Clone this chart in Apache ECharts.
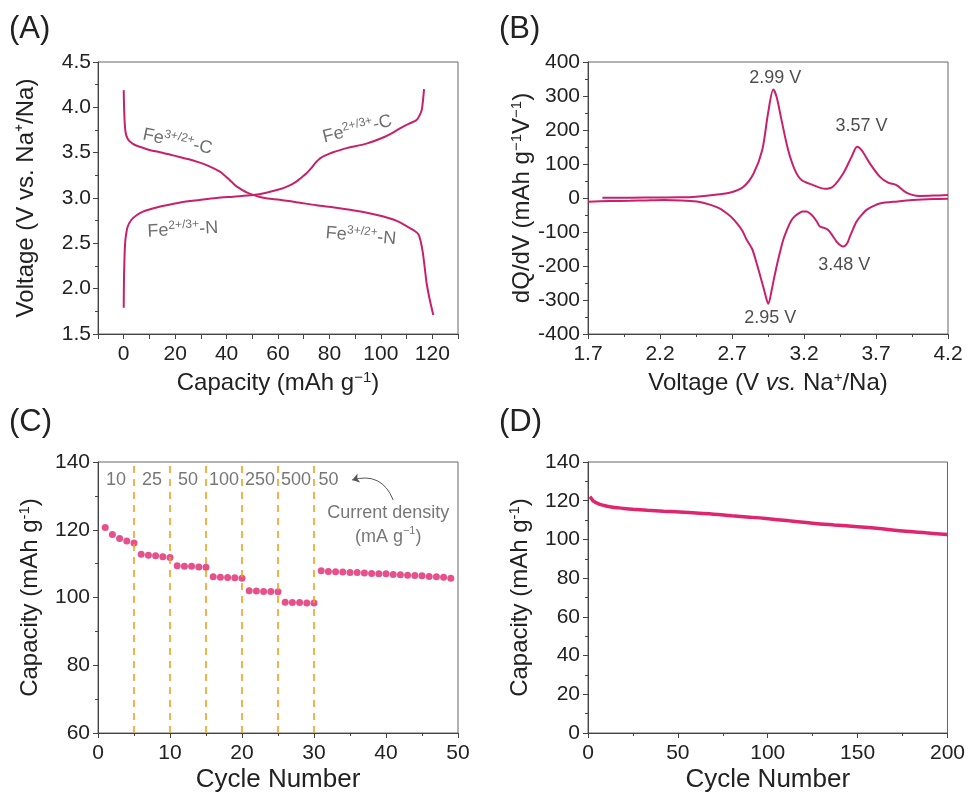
<!DOCTYPE html>
<html><head><meta charset="utf-8">
<script src="https://cdn.jsdelivr.net/npm/echarts@6/dist/echarts.min.js"></script>
<style>html,body{margin:0;padding:0;background:#fff}#c{width:968px;height:796px}</style>
</head><body><div id="c"></div>
<script>
// ---------- Panel A: charge / discharge profiles (capacity, voltage) ----------
const dischargeA = [[0,4.19],[0.2,3.95],[0.5,3.78],[0.9,3.70],[1.6,3.65],[2.5,3.62],[4,3.59],[6.2,3.565],[10,3.53],[15,3.50],[19.2,3.47],[25,3.43],[29.6,3.39],[32,3.365],[34,3.34],[36,3.312],[37.4,3.29],[38.8,3.26],[40,3.23],[41.3,3.195],[42.6,3.16],[44,3.125],[46,3.09],[48,3.06],[50.3,3.035],[53,3.01],[56,2.995],[60.7,2.98],[68,2.95],[74.9,2.92],[82,2.895],[88,2.87],[95,2.835],[101,2.795],[106,2.75],[110,2.69],[113,2.64],[114.6,2.60],[115.5,2.52],[116.3,2.40],[117.2,2.20],[117.8,2.06],[119,1.88],[120.4,1.71]];
const chargeA = [[0,1.79],[0.1,2.1],[0.26,2.30],[0.5,2.48],[0.8,2.575],[1.5,2.68],[3,2.76],[5,2.81],[7.5,2.85],[12,2.89],[16.6,2.92],[22,2.95],[29.6,2.978],[36,3.0],[42.6,3.015],[50.3,3.033],[55,3.055],[59.4,3.088],[61,3.10],[63,3.12],[65,3.145],[66.5,3.17],[68,3.20],[69.5,3.235],[71,3.27],[72.5,3.315],[73.5,3.35],[74.5,3.385],[75.5,3.415],[76.5,3.44],[78,3.465],[80,3.49],[82,3.51],[86.7,3.55],[94.4,3.60],[100.9,3.667],[104,3.71],[107.4,3.767],[111,3.82],[113.9,3.86],[115.2,3.92],[115.9,3.97],[116.4,4.08],[116.8,4.2]];
const feLabels = ['{b|Fe}{s|3+/2+}{b|-C}','{b|Fe}{s|2+/3+}{b|-C}','{b|Fe}{s|2+/3+}{b|-N}','{b|Fe}{s|3+/2+}{b|-N}'];
const feLabelPos = [[21,3.63],[90.8,3.77],[23,2.66],[92.3,2.59]];
const feLabelRotate = [-12,14,3,-5];
const capTicksA = [0,20,40,60,80,100,120];

// ---------- Panel B: dQ/dV ----------
const dqdvUpper = [[1.8,0.5],[2.0,1],[2.2,1.5],[2.34,2],[2.45,4],[2.57,9],[2.69,16],[2.78,33],[2.85,72],[2.91,141],[2.95,248],[2.987,319],[3.01,297],[3.044,229],[3.09,141],[3.137,82],[3.183,53],[3.264,38],[3.345,27],[3.40,33],[3.472,72],[3.53,121],[3.569,151],[3.60,141],[3.657,102],[3.726,63],[3.784,45],[3.842,38],[3.911,16],[4.0,6],[4.1,7],[4.2,9]];
const dqdvLower = [[4.2,-2],[4.1,-3],[3.957,-6],[3.85,-10],[3.726,-16],[3.68,-24],[3.634,-35],[3.60,-50],[3.565,-69],[3.54,-92],[3.519,-113],[3.50,-133],[3.472,-143],[3.45,-138],[3.426,-128],[3.40,-112],[3.368,-94],[3.34,-88],[3.31,-84],[3.29,-70],[3.264,-55],[3.24,-45],[3.218,-40],[3.19,-40],[3.172,-43],[3.14,-52],[3.114,-65],[3.085,-90],[3.056,-123],[3.03,-165],[3.01,-201],[2.99,-240],[2.976,-270],[2.952,-311],[2.94,-298],[2.929,-280],[2.9,-235],[2.871,-192],[2.84,-150],[2.802,-123],[2.77,-95],[2.733,-74],[2.70,-58],[2.663,-45],[2.62,-32],[2.571,-23],[2.50,-14],[2.456,-10],[2.35,-7],[2.225,-6],[2.1,-7],[1.993,-8],[1.85,-9],[1.7,-11]];
const peakLabels = ['2.99 V','3.57 V','3.48 V','2.95 V'];
const peakLabelPos = [[3.0,353],[3.6,212],[3.48,-197],[2.965,-353]];

// ---------- Panel C: rate capability ----------
const rateCycles = [1,2,3,4,5,6,7,8,9,10,11,12,13,14,15,16,17,18,19,20,21,22,23,24,25,26,27,28,29,30,31,32,33,34,35,36,37,38,39,40,41,42,43,44,45,46,47,48,49];
const rateCapacity = [120.7,118.6,117.4,116.7,116.1, 112.8,112.5,112.3,112.0,111.8, 109.4,109.2,109.2,109.0,108.9, 106.1,106.0,105.9,105.8,105.7, 102.0,101.9,101.8,101.8,101.7, 98.6,98.5,98.5,98.4,98.4, 107.9,107.7,107.6,107.5,107.4,107.4,107.2,107.1,107.0,107.0,106.8,106.7,106.6,106.5,106.4,106.2,106.1,106.0,105.7];
const rateBoundaries = [5,10,15,20,25,30];
const rateLabels = ['10','25','50','100','250','500','50'];
const rateLabelX = [2.5,7.5,12.5,17.5,22.5,27.5,32];
const rateLabelY = 134.7;
const densityNotePos = [40.3,122.4];
const arrowCoords = [[41.0,128.8],[35.3,134.7]];

// ---------- Panel D: long cycling ----------
const longCycles = [1,2,3,5,7,10,13,17,20,25,33,42,51,60,70,80,90,99,112,125,137,150,162,175,188,200];
const longCapacity = [122.0,121.0,119.8,118.8,118.0,117.3,116.8,116.3,116.0,115.6,115.1,114.6,114.2,113.6,113.0,112.2,111.5,110.8,109.6,108.4,107.5,106.6,105.6,104.4,103.4,102.5];

const FONT = "'Liberation Sans', Arial, sans-serif";
const LINE = '#c8216c';
const DOT = '#e0256f';
const GRAY = '#4a4a4a';

const chart = echarts.init(document.getElementById('c'), null, {renderer:'canvas'});

const grids = [
  {left:98, top:62, width:360, height:272},
  {left:588, top:62, width:360, height:272},
  {left:98, top:462, width:360, height:271},
  {left:588, top:462, width:360, height:271}
].map(g => Object.assign({show:true, borderColor:'#666', borderWidth:1, backgroundColor:'#fff'}, g));

const nameRich = {
  n:{fontSize:24, fontFamily:FONT, color:'#222'},
  s:{fontSize:15, fontFamily:FONT, color:'#222', verticalAlign:'bottom', padding:[0,0,10,0]},
  nb:{fontSize:24, fontFamily:FONT, color:'#222', verticalAlign:'bottom'}
};
const LBL = {fontSize:21, fontFamily:FONT, color:'#222'};

function axisCommon(extra){
  return Object.assign({
    type:'value',
    axisLine:{show:true, onZero:false, lineStyle:{color:'#444', width:1}},
    axisTick:{show:true, inside:false, length:5, lineStyle:{color:'#444'}},
    minorTick:{show:true, splitNumber:2, length:3, lineStyle:{color:'#444'}},
    splitLine:{show:false},
    axisLabel:Object.assign({}, LBL),
    nameLocation:'middle',
    nameTextStyle:{fontSize:24, fontFamily:FONT, color:'#222', rich:nameRich}
  }, extra);
}

const xAxes = [
  axisCommon({gridIndex:0, min:-10, max:130, interval:10, minorTick:{show:false},
    axisLabel:Object.assign({margin:10,
      formatter:v => capTicksA.indexOf(Math.round(v))>=0 ? String(Math.round(v)) : ''}, LBL),
    name:'{nb|Capacity (mAh g}{s|−1}{nb|)}', nameGap:36}),
  axisCommon({gridIndex:1, min:1.7, max:4.2, interval:0.5,
    axisLabel:Object.assign({margin:10, formatter:v=>v.toFixed(1)}, LBL),
    name:'{nb|Voltage (V }{ib|vs.}{nb| Na}{s|+}{nb|/Na)}', nameGap:36}),
  axisCommon({gridIndex:2, min:0, max:50, interval:10,
    axisLabel:Object.assign({margin:10}, LBL),
    name:'Cycle Number', nameGap:34, nameTextStyle:{fontSize:26, fontFamily:FONT, color:'#222'}}),
  axisCommon({gridIndex:3, min:0, max:200, interval:50,
    axisLabel:Object.assign({margin:10}, LBL),
    name:'Cycle Number', nameGap:34, nameTextStyle:{fontSize:26, fontFamily:FONT, color:'#222'}})
];
xAxes[1].nameTextStyle.rich = Object.assign({}, nameRich, {ib:{fontSize:24, fontFamily:FONT, color:'#222', fontStyle:'italic', verticalAlign:'bottom'}});

const yAxes = [
  axisCommon({gridIndex:0, min:1.5, max:4.5, interval:0.5,
    axisLabel:Object.assign({margin:7, formatter:v=>v.toFixed(1)}, LBL),
    name:'Voltage (V vs. Na⁺/Na)', nameGap:60, nameRotate:90}),
  axisCommon({gridIndex:1, min:-400, max:400, interval:100,
    axisLabel:Object.assign({margin:8}, LBL),
    name:'{nb|dQ/dV (mAh g}{s|−1}{nb|V}{s|−1}{nb|)}', nameGap:54, nameRotate:90}),
  axisCommon({gridIndex:2, min:60, max:140, interval:20,
    axisLabel:Object.assign({margin:8}, LBL),
    name:'{nb|Capacity (mAh g}{s|-1}{nb|)}', nameGap:56, nameRotate:90}),
  axisCommon({gridIndex:3, min:0, max:140, interval:20,
    axisLabel:Object.assign({margin:8}, LBL),
    name:'{nb|Capacity (mAh g}{s|-1}{nb|)}', nameGap:56, nameRotate:90})
];

const feRich = {
  b:{fontSize:18, fontFamily:FONT, color:GRAY, verticalAlign:'bottom'},
  s:{fontSize:12, fontFamily:FONT, color:GRAY, verticalAlign:'bottom', padding:[0,0,8,0]}
};

const option = {
  animation:false,
  backgroundColor:'#fff',
  grid:grids,
  xAxis:xAxes,
  yAxis:yAxes,
  graphic:[
    {type:'text', left:9, top:14, style:{text:'(A)', fontSize:31, fontFamily:FONT, fill:'#222'}},
    {type:'text', left:499, top:14, style:{text:'(B)', fontSize:31, fontFamily:FONT, fill:'#222'}},
    {type:'text', left:9, top:407, style:{text:'(C)', fontSize:31, fontFamily:FONT, fill:'#222'}},
    {type:'text', left:499, top:407, style:{text:'(D)', fontSize:31, fontFamily:FONT, fill:'#222'}}
  ],
  series:[
    {type:'line', xAxisIndex:0, yAxisIndex:0, data:dischargeA, showSymbol:false, smooth:0.3,
     lineStyle:{color:LINE, width:2}, silent:true},
    {type:'line', xAxisIndex:0, yAxisIndex:0, data:chargeA, showSymbol:false, smooth:0.3,
     lineStyle:{color:LINE, width:2}, silent:true},
    {type:'scatter', xAxisIndex:0, yAxisIndex:0, symbolSize:0, silent:true,
     data:feLabelPos.map((p,i)=>({value:p, label:{rotate:feLabelRotate[i]}})),
     label:{show:true, position:'inside', formatter:p=>feLabels[p.dataIndex], rich:feRich}},
    {type:'line', xAxisIndex:1, yAxisIndex:1, data:dqdvUpper, showSymbol:false, smooth:0.3,
     lineStyle:{color:LINE, width:2}, silent:true},
    {type:'line', xAxisIndex:1, yAxisIndex:1, data:dqdvLower, showSymbol:false, smooth:0.3,
     lineStyle:{color:LINE, width:2}, silent:true},
    {type:'scatter', xAxisIndex:1, yAxisIndex:1, symbolSize:0, silent:true,
     data:peakLabelPos,
     label:{show:true, position:'inside', formatter:p=>peakLabels[p.dataIndex], fontSize:18, fontFamily:FONT, color:'#222'}},
    {type:'scatter', xAxisIndex:2, yAxisIndex:2, symbolSize:7, silent:true,
     itemStyle:{color:DOT},
     data:rateCycles.map((c,i)=>[c, rateCapacity[i]]),
     markLine:{silent:true, symbol:['none','none'], label:{show:false},
       lineStyle:{color:'#f0a020', width:1.6, type:[7,6]},
       data:rateBoundaries.map(b=>({xAxis:b}))}},
    {type:'scatter', xAxisIndex:2, yAxisIndex:2, symbolSize:0, silent:true,
     data:rateLabelX.map(x=>[x, rateLabelY]),
     label:{show:true, position:'inside', formatter:p=>rateLabels[p.dataIndex], fontSize:18, fontFamily:FONT, color:'#555'}},
    {type:'scatter', xAxisIndex:2, yAxisIndex:2, symbolSize:0, silent:true,
     data:[densityNotePos],
     label:{show:true, position:'inside', align:'center', lineHeight:24,
       formatter:'{t|Current density}\n{t|(mA g}{u|−1}{t|)}',
       rich:{t:{fontSize:18, fontFamily:FONT, color:'#555', lineHeight:24, verticalAlign:'bottom'},
             u:{fontSize:11, fontFamily:FONT, color:'#555', verticalAlign:'bottom', padding:[0,0,9,0]}}}},
    {type:'lines', coordinateSystem:'cartesian2d', xAxisIndex:2, yAxisIndex:2, silent:true,
     symbol:['none','arrow'], symbolSize:7,
     lineStyle:{color:'#555', width:1, curveness:-0.45, opacity:1},
     data:[{coords:arrowCoords}]},
    {type:'line', xAxisIndex:3, yAxisIndex:3, data:longCycles.map((c,i)=>[c,longCapacity[i]]),
     showSymbol:false, smooth:0.4, lineStyle:{color:DOT, width:3.5}, silent:true}
  ]
};
chart.setOption(option);
</script></body></html>
